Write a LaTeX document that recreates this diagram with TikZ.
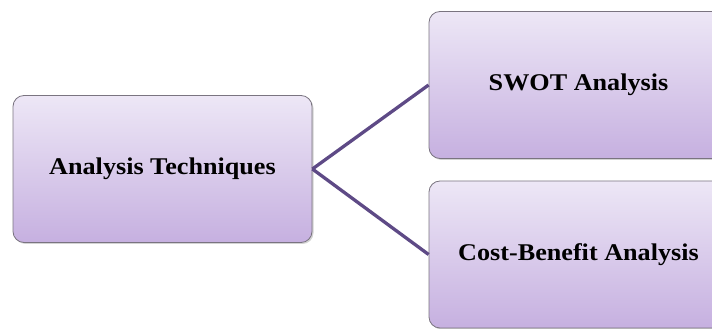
\documentclass[tikz,border=0pt]{standalone}
\usepackage{fontspec}
\setmainfont{Liberation Serif}[FakeStretch=1.09]
\usetikzlibrary{shadows}
\definecolor{boxtop}{HTML}{EDE7F6}
\definecolor{boxbot}{HTML}{C6B0E0}
\definecolor{boxline}{HTML}{7A7480}
\definecolor{linkcol}{HTML}{5E4A86}
\begin{document}
\begin{tikzpicture}[x=1pt,y=1pt,
  box/.style={draw=boxline,line width=0.8pt,rounded corners=11pt,top color=boxtop,bottom color=boxbot,
    minimum width=299pt,minimum height=147pt,inner sep=0pt,
    drop shadow={shadow xshift=1.5pt,shadow yshift=-1.5pt,opacity=0.35},
    font=\bfseries\fontsize{24}{28}\selectfont,text=black},
  link/.style={draw=linkcol,line width=3.3pt},
]
\useasboundingbox (0,0) rectangle (712,329);
\clip (0,0) rectangle (712,329);
\node[box] (tech) at (162.5,160) {Analysis Techniques};
\node[box] (swot) at (578.5,244) {SWOT Analysis};
\node[box] (cba) at (578.5,74.5) {Cost-Benefit Analysis};
\draw[link] (tech.east) -- (swot.west);
\draw[link] (tech.east) -- (cba.west);
\end{tikzpicture}
\end{document}
